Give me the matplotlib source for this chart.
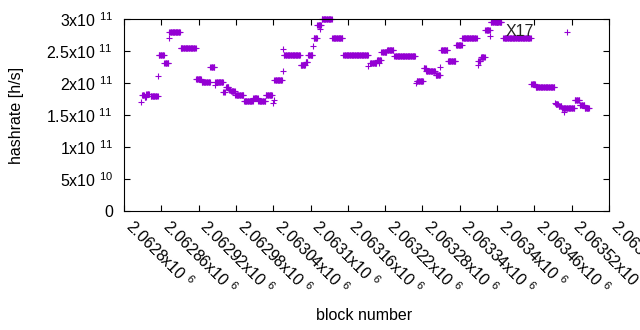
import numpy as np
import matplotlib
matplotlib.use("Agg")
import matplotlib.pyplot as plt

plt.rcParams['font.family'] = ['Liberation Sans', 'DejaVu Sans']
plt.rcParams['mathtext.fontset'] = 'custom'
plt.rcParams['mathtext.rm'] = 'Liberation Sans'
plt.rcParams['mathtext.it'] = 'Liberation Sans'

# runs of constant hashrate: first block, last block, hashrate (x1e11)
run_start = [2062828, 2062829, 2062833, 2062836, 2062843, 2062855, 2062856, 2062865,
             2062872, 2062873, 2062891, 2062916, 2062925, 2062939, 2062946, 2062947,
             2062960, 2062964, 2062969, 2062972, 2062979, 2062985, 2062993, 2063008,
             2063016, 2063028, 2063040, 2063041, 2063042, 2063055, 2063056, 2063057,
             2063084, 2063092, 2063096, 2063104, 2063105, 2063111, 2063115, 2063118,
             2063135, 2063152, 2063154, 2063193, 2063196, 2063207, 2063210, 2063214,
             2063223, 2063235, 2063269, 2063271, 2063282, 2063286, 2063290, 2063301,
             2063309, 2063310, 2063321, 2063334, 2063344, 2063369, 2063370, 2063374,
             2063381, 2063389, 2063390, 2063410, 2063455, 2063462, 2063493, 2063494,
             2063499, 2063504, 2063508, 2063512, 2063525, 2063533, 2063541]
run_end = [2062828, 2062832, 2062835, 2062840, 2062854, 2062855, 2062864, 2062871,
           2062872, 2062890, 2062915, 2062924, 2062938, 2062945, 2062946, 2062959,
           2062962, 2062968, 2062971, 2062978, 2062984, 2062992, 2063007, 2063015,
           2063027, 2063038, 2063040, 2063041, 2063054, 2063055, 2063056, 2063083,
           2063091, 2063095, 2063103, 2063104, 2063110, 2063117, 2063115, 2063134,
           2063151, 2063152, 2063192, 2063193, 2063206, 2063213, 2063210, 2063222,
           2063233, 2063268, 2063269, 2063281, 2063285, 2063289, 2063300, 2063308,
           2063309, 2063320, 2063333, 2063343, 2063367, 2063369, 2063373, 2063380,
           2063388, 2063389, 2063407, 2063454, 2063461, 2063492, 2063493, 2063498,
           2063503, 2063524, 2063508, 2063512, 2063532, 2063540, 2063548]
run_value = [1.70, 1.81, 1.78, 1.83, 1.795, 2.11, 2.43, 2.31,
             2.70, 2.79, 2.54, 2.06, 2.01, 2.245, 1.97, 2.01,
             1.86, 1.94, 1.89, 1.875, 1.82, 1.81, 1.72, 1.77,
             1.72, 1.81, 1.69, 1.73, 2.05, 2.18, 2.53, 2.43,
             2.28, 2.33, 2.44, 2.58, 2.71, 2.90, 2.85, 2.995,
             2.70, 2.44, 2.43, 2.27, 2.31, 2.36, 2.31, 2.48,
             2.52, 2.42, 1.995, 2.03, 2.23, 2.19, 2.18, 2.12,
             2.25, 2.52, 2.34, 2.59, 2.71, 2.28, 2.34, 2.41,
             2.83, 2.74, 2.95, 2.70, 1.98, 1.94, 1.69, 1.67,
             1.64, 1.61, 1.55, 2.80, 1.73, 1.66, 1.61]

x_ticks = [2062800 + 60 * i for i in range(14)]
x_labels = ['2.0628', '2.06286', '2.06292', '2.06298', '2.06304', '2.0631', '2.06316',
            '2.06322', '2.06328', '2.06334', '2.0634', '2.06346', '2.06352', '2.06358']
y_ticks = [0, 0.5e11, 1e11, 1.5e11, 2e11, 2.5e11, 3e11]
y_labels = ['0', '5x10 $^{10}$', '1x10 $^{11}$', '1.5x10 $^{11}$', '2x10 $^{11}$',
            '2.5x10 $^{11}$', '3x10 $^{11}$']

# expand runs into one point per block
blocks = np.concatenate([np.arange(s, e + 1) for s, e in zip(run_start, run_end)])
hashrate = np.concatenate([np.full(e - s + 1, v * 1e11)
                           for s, e, v in zip(run_start, run_end, run_value)])

fig = plt.figure(figsize=(6.4, 3.3), dpi=100)
ax = fig.add_axes([124 / 640, 1 - 211 / 330, 485 / 640, 192 / 330])

ax.plot(blocks, hashrate, '+', color='#9400D3', ms=5, mew=0.8, clip_on=False)

ax.set_xlim(2062800, 2063580)
ax.set_ylim(0, 3e11)
ax.set_xticks(x_ticks)
ax.set_xticklabels([s + 'x10 $^{6}$' for s in x_labels], rotation=-45, ha='left',
                   va='baseline', rotation_mode='anchor', fontsize=11.5)
ax.set_yticks(y_ticks)
ax.set_yticklabels(y_labels, fontsize=11.5)
ax.tick_params(direction='in', top=True, right=True, length=4, width=0.8)
ax.tick_params(axis='y', pad=8)
ax.tick_params(axis='x', pad=12)
for sp in ax.spines.values():
    sp.set_linewidth(0.8)

ax.text(2063413, 2.81e11, 'X17', fontsize=11.5, ha='left', va='center', color='#222222')

fig.text(364 / 640, 1 - 316 / 330, 'block number', ha='center', va='center', fontsize=11.5)
fig.text(17 / 640, 1 - 115 / 330, 'hashrate [h/s]', rotation=90, ha='center',
         va='center', fontsize=11.5)

fig.savefig('out.png', dpi=100)
